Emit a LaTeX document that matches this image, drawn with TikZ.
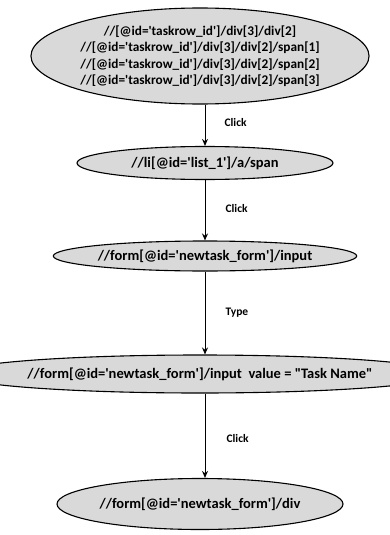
\documentclass[tikz,border=0pt]{standalone}
\usepackage{fontspec}
\setmainfont{Carlito}
\usetikzlibrary{shapes.geometric,arrows.meta}
\newcommand{\sq}{\textquotesingle}
\newcommand{\dq}{\textquotedbl}
\begin{document}
\begin{tikzpicture}[x=1pt,y=-1pt,
  xpathnode/.style={ellipse, draw=black, line width=1.1pt, fill=gray!30,
    inner sep=0pt, align=center,
    font=\fontsize{14.5}{17}\selectfont\bfseries},
  flow/.style={-{Stealth[length=7pt,width=6pt]}, line width=1pt},
  action/.style={font=\fontsize{11.5}{13}\selectfont\bfseries, anchor=west}]
\useasboundingbox (0,0) rectangle (390,535);

\node[xpathnode, minimum width=312pt, minimum height=96pt,
      font=\fontsize{13.3}{16.5}\selectfont\bfseries] (e1) at (200,56)
  {//[@id=\sq taskrow\_id\sq]/div[3]/div[2]\\
   //[@id=\sq taskrow\_id\sq]/div[3]/div[2]/span[1]\\
   //[@id=\sq taskrow\_id\sq]/div[3]/div[2]/span[2]\\
   //[@id=\sq taskrow\_id\sq]/div[3]/div[2]/span[3]};
\node[xpathnode, minimum width=256pt, minimum height=33pt] (e2) at (205,163)
  {//li[@id=\sq list\_1\sq]/a/span};
\node[xpathnode, minimum width=283pt, minimum height=30pt] (e3) at (205,256)
  {//form[@id=\sq newtask\_form\sq]/input};
\node[xpathnode, minimum width=376pt, minimum height=38pt] (e4) at (200,374)
  {//form[@id=\sq newtask\_form\sq]/input\ \ value = \dq Task Name\dq};
\node[xpathnode, minimum width=286pt, minimum height=51pt] (e5) at (200,504)
  {//form[@id=\sq newtask\_form\sq]/div};

\draw[flow] (e1.south -| e2) -- (e2.north);
\draw[flow] (e2.south) -- (e3.north);
\draw[flow] (e3.south) -- (e4.north -| e3);
\draw[flow] (e4.south -| e3) -- (e5.north -| e3);

\node[action] (l1) at (221,123) {Click};
\node[action] (l2) at (222,209) {Click};
\node[action] (l3) at (222,313) {Type};
\node[action] (l4) at (223,439) {Click};
\end{tikzpicture}
\end{document}
